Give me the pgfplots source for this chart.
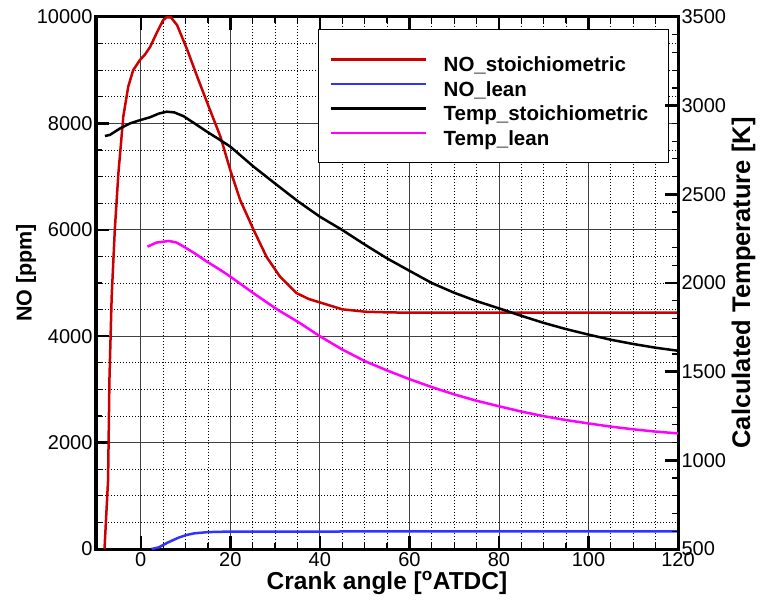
\documentclass[border=0pt]{standalone}
\usepackage{pgfplots}
\pgfplotsset{compat=1.18}
\usepackage{fontspec}
\setmainfont{Liberation Sans}

\definecolor{cred}{RGB}{204,0,0}
\definecolor{cblue}{RGB}{50,50,255}
\definecolor{cmag}{RGB}{255,0,255}

\newcommand{\tickfont}{\fontsize{20bp}{24bp}\selectfont}

\pgfplotsset{
  myaxis/.style={
    scale only axis, width=582bp, height=532bp,
    xmin=-10, xmax=120,
    tick align=inside,
    axis line style={line width=3bp},
    major tick length=13bp, minor tick length=6bp,
    every major tick/.append style={line width=2.5bp, black},
    every minor tick/.append style={line width=1.2bp, black},
    ticklabel style={font=\tickfont},
    /pgf/number format/assume math mode=true,
    /pgf/number format/1000 sep={},
    scaled y ticks=false,
  }
}

\begin{document}
\begin{tikzpicture}
\begin{axis}[myaxis, name=ax,
  ymin=0, ymax=10000,
  xtick={0,20,...,120}, minor x tick num=3,
  ytick={0,2000,...,10000}, minor y tick num=3,
  ytick pos=left,
  grid=both,
  major grid style={black!75, line width=0.8bp},
  minor grid style={black, line width=0.8bp, dash pattern=on 1bp off 2bp},
]
\addplot[cred, line width=2.5bp] coordinates {
(-8.1,0) (-7.3,1300) (-7.0,3180) (-6.5,4740) (-5.8,6000) (-5.0,7060)
(-3.9,8130) (-2.8,8690) (-1.7,9000) (-0.2,9190) (1.0,9300) (2.1,9440)
(3.5,9690) (5.0,9940) (5.8,9995) (6.7,9995) (8.1,9850) (10.4,9380)
(12.6,8880) (15.2,8310) (17.8,7750) (20.0,7120) (22.2,6560) (25.2,6000)
(28.1,5490) (31.1,5120) (34.8,4810) (37.5,4700) (40.0,4635) (45.0,4505)
(50.2,4460) (55,4448) (60,4442) (80,4442) (100,4442) (120,4442)
};
\addplot[cblue, line width=2.5bp] coordinates {
(2.4,0) (4,30) (5,75) (6,120) (7.3,170) (8.5,215) (10.2,263) (12,295)
(14.7,315) (17,323) (19.9,326) (30,328) (60,330) (90,330) (120,330)
};
\end{axis}

% legend frame (opaque box behind the legend entries)
\filldraw[fill=white, draw=black, line width=0.8bp]
  ([shift={(222bp,-12bp)}]ax.north west) rectangle ([shift={(-10bp,-145bp)}]ax.north east);

\begin{axis}[myaxis,
  ymin=500, ymax=3500,
  axis x line=none, axis y line*=right,
  ytick={500,1000,...,3500}, minor y tick num=4,
  legend style={at={(0.4021,0.9254)}, anchor=north west,
    draw=none, fill=none, inner sep=0bp,
    font=\bfseries\fontsize{20.5bp}{24bp}\selectfont,
    nodes={inner sep=0bp, text height=15bp, text depth=5bp},
    /tikz/column sep=16bp, row sep=4.5bp,
    cells={anchor=west}},
  legend image code/.code={\draw[#1, yshift=7.3bp] (0bp,0bp) -- (95bp,0bp);},
]
\addlegendimage{cred, line width=2.5bp}
\addlegendentry{NO\_stoichiometric}
\addlegendimage{cblue, line width=2.5bp}
\addlegendentry{NO\_lean}
\addplot[black, line width=2.5bp] coordinates {
(-8.0,2829) (-6.9,2835) (-4.6,2872) (-2.4,2900) (-0.2,2918) (2.0,2934)
(4.0,2955) (5.8,2966) (7.5,2962) (9.6,2940) (12,2900) (14.8,2853)
(17.5,2810) (20,2769) (25.2,2656) (30.4,2553) (35.2,2459) (40,2374)
(45,2299) (50.2,2214) (55,2139) (60,2069) (65,2000) (70,1945) (75,1898)
(80,1857) (85,1815) (90,1775) (95,1740) (100,1709) (105,1680) (110,1656)
(115,1635) (120,1618)
};
\addlegendentry{Temp\_stoichiometric}
\addplot[cmag, line width=2.5bp] coordinates {
(1.5,2205) (3.5,2228) (6.3,2237) (8,2228) (9.6,2205) (12,2168) (14.8,2120)
(17.5,2078) (20,2036) (25.2,1942) (30.4,1852) (35.6,1773) (40,1700)
(45,1625) (50,1560) (55,1507) (60,1458) (65,1413) (70,1372) (75,1336)
(80,1305) (85,1275) (90,1249) (95,1227) (100,1208) (105,1190) (110,1175)
(115,1162) (120,1152)
};
\addlegendentry{Temp\_lean}
\end{axis}

\node[font=\bfseries\fontsize{24.5bp}{28bp}\selectfont] at ([yshift=-34bp]ax.south) {Crank angle [\textsuperscript{o}ATDC]};
\node[rotate=90, font=\bfseries\fontsize{21.5bp}{24bp}\selectfont] at ([xshift=-70bp, yshift=10bp]ax.west) {NO [ppm]};
\node[rotate=90, font=\bfseries\fontsize{25.5bp}{30bp}\selectfont] at ([xshift=65.5bp]ax.east) {Calculated Temperature [K]};

\pgfresetboundingbox
\path[use as bounding box] ([shift={(-96bp,-57bp)}]ax.south west) rectangle ([shift={(88bp,17bp)}]ax.north east);
\end{tikzpicture}
\end{document}
